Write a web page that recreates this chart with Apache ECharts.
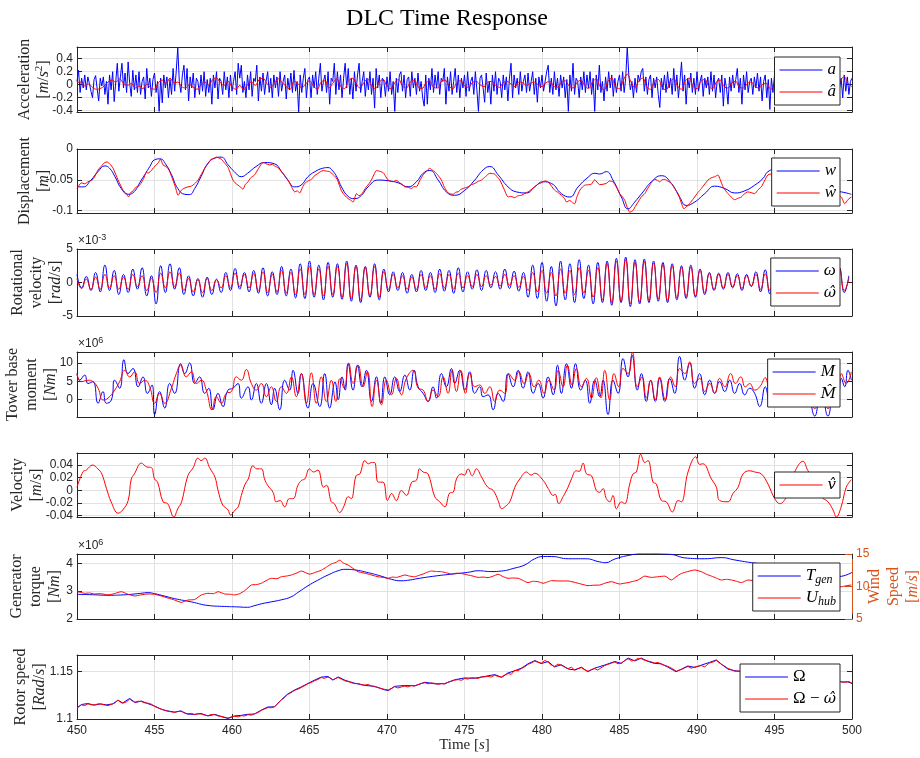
<!DOCTYPE html>
<html><head><meta charset="utf-8">
<script src="https://cdn.jsdelivr.net/npm/echarts@6/dist/echarts.min.js"></script>
<style>html,body{margin:0;padding:0;background:#fff}#c{width:920px;height:758px}</style>
</head><body><div id="c"></div>
<script>
// ---------------- DATA ----------------
const xTicks = [450,455,460,465,470,475,480,485,490,495,500];
const accTicks = [-0.4,-0.2,0,0.2,0.4];
const dispTicks = [-0.1,-0.05,0];
const rotTicks = [-5,0,5];
const momTicks = [0,5,10];
const velTicks = [-0.04,-0.02,0,0.02,0.04];
const torqTicks = [2,3,4];
const windTicks = [5,10,15];
const rotorTicks = [1.1,1.15];

// Acceleration a [m/s^2], samples every 0.1 s from 450 s
const accA = [
.05,.22,-.12,.1,-.05,.15,-.08,.12,.02,-.1,
-.2,.08,.14,-.06,-.25,.1,-.02,.12,-.15,.05,
-.3,.15,-.08,.2,-.26,.05,.33,-.1,.12,.33,
-.05,.18,-.12,.35,.02,-.18,.22,-.08,.15,-.12,
.2,-.15,.05,.12,-.22,.25,-.05,.1,-.18,.08,
.18,-.12,.05,-.41,.1,-.28,.15,-.05,.12,-.2,
.08,-.15,.25,-.1,.2,.57,.05,-.12,.15,.3,
-.08,.25,-.25,.12,-.05,.18,-.2,.1,.05,-.15,
.15,-.1,.2,-.18,.08,-.12,.1,-.3,.15,-.05,
.2,-.22,.1,.05,-.15,.2,-.08,.12,-.2,.15,
-.1,.05,.2,-.15,.33,.1,.3,-.12,.05,-.2,
.15,-.08,.2,-.18,.1,.05,.3,-.25,.12,-.1,
.18,-.15,.05,.2,-.12,.1,-.2,.15,-.05,.12,
-.18,.2,-.1,.05,.15,-.22,.1,-.08,.18,-.12,
.22,-.1,.05,-.42,.15,-.12,.1,.25,-.2,.08,
.12,-.2,.15,-.05,.2,-.15,.1,.33,-.1,.05,
.15,-.12,.2,-.3,.1,.05,.33,-.15,.2,-.08,
.15,-.2,.1,.33,-.05,.25,-.15,.1,-.22,.2,
-.1,.15,.33,-.12,.05,.2,-.18,.1,-.08,.2,
-.15,.1,-.36,.25,-.05,.15,-.2,.1,.05,-.18,
.12,-.1,.2,-.15,.05,-.41,.1,-.12,.15,.2,
-.1,.15,-.2,.08,.12,-.18,.2,-.05,.1,-.15,
.18,-.1,.05,-.2,-.33,.15,-.3,.1,-.08,.25,
-.12,.15,-.05,.2,-.15,.1,.05,.25,-.3,.12,
-.1,.2,-.15,.05,.25,-.12,.15,-.2,.1,-.05,
.15,-.18,.2,-.1,.05,.12,-.15,.2,-.08,-.41,
.1,.15,-.05,-.27,.18,-.12,.05,-.3,.15,-.1,
.2,-.15,.1,.05,-.2,.15,-.08,.12,-.25,.1,
.33,-.2,.15,-.05,.1,-.15,.2,-.1,.05,.15,
-.12,.18,-.1,.05,.2,-.15,.1,-.27,.12,-.05,
.15,-.1,.05,.2,.3,-.12,.1,-.15,.2,-.08,
.1,-.18,.15,-.05,.12,-.2,.08,-.41,.15,-.1,
.33,-.15,.1,.05,-.2,.12,-.08,.2,-.12,.15,
-.05,.2,-.15,.1,-.41,.15,-.08,.3,-.12,.05,
-.25,.12,-.1,.2,-.05,.15,-.18,.1,-.12,.05,
.15,-.1,.2,-.12,.1,.58,.15,-.08,.05,-.2,
.1,-.12,.15,.05,.2,.25,-.1,.12,-.15,.08,
.15,-.2,.1,-.05,.12,-.15,-.35,.1,-.08,.15,
-.12,.2,-.05,.1,-.15,.25,-.1,.15,-.2,.05,
.35,-.1,.15,-.3,.1,-.05,.18,-.12,.1,-.15,
.2,-.1,.05,.15,-.18,.1,-.05,.12,-.15,.2,
-.1,.15,-.2,.05,.1,-.12,.15,-.33,.1,-.05,
-.3,.12,-.1,.15,-.05,.08,.25,-.12,.1,-.3,
.15,-.08,.2,-.12,.05,.1,-.15,.12,-.05,.18,
-.1,.12,-.25,.05,.15,-.2,.08,-.38,.1,-.12,
.15,-.2,.1,-.05,.2,-.15,.12,-.1,.05,-.3,
.18,-.12,.1,.05,-.2,.15,-.08,.2,-.25,.1,
-.1,.15,-.05,.12,-.18,.1,-.3,.15,-.05,.2,
-.15,.1,.05,-.2,.15,-.1,.12,-.25,.08,.15,
-.12,.2,-.05,.1,-.2,.15,-.1,.12,-.15,.05,
.1];
// Estimated acceleration a-hat, every 0.25 s from 450 s
const accAhat = [
.03,.04,-.02,.01,-.04,-.07,-.06,-.02,.04,.07,.04,.09,.02,-.01,.02,-.05,-.02,-.06,.01,-.05,
-.07,.03,.07,.02,.1,.03,.04,-.03,-.05,0,-.04,-.07,0,.04,-.01,.08,.1,.03,-.01,.05,
-.03,-.07,-.01,-.08,0,.04,-.01,.08,.1,.02,-.04,.03,.09,.03,-.03,-.07,.05,.02,-.05,.01,
.06,-.02,-.07,.04,.06,-.05,.02,.09,-.02,-.06,.05,.1,.02,-.05,.03,.09,-.01,-.06,.04,.08,
-.02,-.06,.03,.08,-.02,-.05,.04,.07,-.03,-.06,.02,.06,-.04,-.05,.05,.07,-.02,-.06,.03,.06,
-.02,-.04,.03,.05,0,-.03,.04,.05,-.01,-.04,.03,.05,.01,-.03,.04,.03,-.01,.02,.04,0,
-.03,.03,.05,-.02,-.04,.04,.06,-.02,-.05,.03,.07,-.01,-.06,.04,.09,-.03,-.08,.05,.1,-.04,
-.06,.07,.16,.04,-.05,.06,.1,-.03,-.07,.05,.08,-.04,-.08,.04,.09,-.02,-.07,.06,.1,-.03,
-.06,.05,.08,-.02,-.06,.04,.07,-.03,-.05,.03,.05,-.04,-.05,.02,.04,-.03,-.05,.01,.02,-.07,
-.02,.03,.05,-.02,-.05,.03,.06,-.03,-.06,.04,.07,-.02,-.06,.05,.08,-.04,-.05,.07,.12,.02,
-.03];

// Displacement w and w-hat [m] as [time, value]
const dispW = [[450,-.0615],[450.4,-.0615],[450.9,-.0505],[451.35,-.0368],[451.8,-.0275],[452.1,-.0313],[452.45,-.045],[452.85,-.064],[453.3,-.0736],[453.6,-.0714],[454.15,-.0505],[454.7,-.0285],[455.0,-.0176],[455.35,-.016],[455.75,-.0258],[456.1,-.042],[456.5,-.064],[456.95,-.0736],[457.25,-.0741],[457.6,-.064],[458.0,-.045],[458.45,-.023],[458.9,-.0148],[459.3,-.0132],[459.75,-.0258],[460.15,-.0368],[460.6,-.045],[461.0,-.0395],[461.55,-.0285],[462.1,-.022],[462.75,-.0242],[463.2,-.0368],[463.6,-.0505],[464.05,-.0615],[464.45,-.0588],[464.9,-.045],[465.35,-.0368],[465.85,-.0313],[466.2,-.0302],[466.5,-.0357],[466.8,-.047],[467.06,-.0615],[467.49,-.0769],[467.92,-.0807],[468.35,-.0753],[468.78,-.0615],[469.43,-.0505],[470.07,-.0516],[470.72,-.0549],[471.36,-.0615],[471.9,-.0533],[472.33,-.0395],[472.76,-.035],[473.3,-.0505],[473.83,-.0697],[474.37,-.0752],[475.02,-.067],[475.66,-.0505],[476.2,-.034],[476.63,-.0285],[477.17,-.042],[477.81,-.0615],[478.35,-.0697],[479.0,-.0714],[479.53,-.0615],[480.07,-.0533],[480.61,-.056],[481.25,-.0725],[481.79,-.078],[482.33,-.0615],[482.97,-.046],[483.4,-.0395],[483.72,-.0406],[484.15,-.0368],[484.58,-.0505],[485.12,-.078],[485.55,-.0972],[485.98,-.0862],[486.52,-.0697],[487.06,-.0533],[487.7,-.0434],[488.35,-.056],[488.88,-.078],[489.31,-.0917],[489.85,-.0862],[490.5,-.0725],[491.14,-.0604],[491.79,-.0642],[492.43,-.0714],[493.08,-.068],[493.72,-.0588],[494.26,-.0478],[494.58,-.0368],[495.2,-.032],[495.7,-.035],[496.5,-.045],[497.5,-.06],[498.5,-.067],[499.31,-.0697],[499.96,-.0736]];
const dispWhat = [[450,-.0642],[450.28,-.055],[450.5,-.0565],[450.71,-.0533],[451.03,-.0494],[451.2,-.042],[451.36,-.034],[451.6,-.027],[451.79,-.022],[451.95,-.021],[452.11,-.0241],[452.33,-.0313],[452.65,-.0505],[452.97,-.067],[453.18,-.0725],[453.33,-.078],[453.45,-.071],[453.55,-.0697],[453.83,-.0615],[454.0,-.06],[454.15,-.055],[454.3,-.048],[454.47,-.0384],[454.6,-.039],[454.8,-.035],[454.95,-.03],[455.12,-.0258],[455.25,-.022],[455.38,-.0165],[455.55,-.0258],[455.7,-.028],[455.87,-.0313],[456.0,-.038],[456.19,-.0505],[456.35,-.062],[456.52,-.0752],[456.73,-.067],[456.9,-.064],[457.16,-.0615],[457.3,-.061],[457.48,-.0588],[457.65,-.055],[457.81,-.0505],[458.0,-.042],[458.24,-.0313],[458.45,-.024],[458.67,-.0165],[458.85,-.015],[458.99,-.0132],[459.15,-.0145],[459.31,-.0165],[459.5,-.022],[459.74,-.0296],[459.9,-.04],[460.06,-.0505],[460.2,-.055],[460.39,-.0588],[460.55,-.062],[460.71,-.0653],[460.85,-.058],[461.03,-.0533],[461.2,-.047],[461.46,-.042],[461.7,-.032],[462.0,-.022],[462.2,-.024],[462.43,-.0258],[462.6,-.025],[462.75,-.0275],[463.0,-.031],[463.18,-.0368],[463.4,-.043],[463.61,-.0505],[463.85,-.062],[464.04,-.0697],[464.2,-.068],[464.37,-.0714],[464.55,-.062],[464.69,-.056],[464.9,-.052],[465.12,-.0494],[465.3,-.044],[465.55,-.0395],[465.7,-.037],[465.87,-.035],[466.1,-.036],[466.3,-.0368],[466.62,-.0439],[466.8,-.05],[467.06,-.068],[467.3,-.076],[467.49,-.0807],[467.65,-.083],[467.81,-.0862],[468.03,-.0725],[468.2,-.076],[468.35,-.0736],[468.5,-.068],[468.67,-.0615],[468.85,-.056],[468.99,-.0505],[469.15,-.042],[469.32,-.035],[469.5,-.036],[469.75,-.0384],[469.9,-.044],[470.07,-.0505],[470.2,-.052],[470.39,-.0533],[470.6,-.051],[470.82,-.0549],[471.0,-.058],[471.15,-.0615],[471.35,-.062],[471.58,-.0642],[471.75,-.061],[471.9,-.0615],[472.1,-.052],[472.33,-.042],[472.55,-.036],[472.76,-.0313],[472.9,-.034],[473.08,-.0368],[473.3,-.043],[473.51,-.0505],[473.7,-.062],[473.94,-.0714],[474.1,-.073],[474.26,-.0736],[474.45,-.07],[474.59,-.0697],[474.75,-.066],[474.91,-.0642],[475.05,-.063],[475.23,-.0615],[475.45,-.058],[475.66,-.056],[475.85,-.053],[476.09,-.0505],[476.35,-.045],[476.63,-.0395],[476.8,-.04],[476.95,-.0406],[477.1,-.045],[477.28,-.0505],[477.55,-.065],[477.81,-.078],[478.0,-.077],[478.24,-.0791],[478.45,-.076],[478.67,-.0752],[478.9,-.072],[479.1,-.0697],[479.3,-.066],[479.53,-.0615],[479.75,-.057],[479.96,-.0549],[480.2,-.052],[480.39,-.0533],[480.6,-.06],[480.82,-.067],[481.05,-.071],[481.25,-.0752],[481.45,-.08],[481.58,-.0862],[481.79,-.0835],[481.95,-.087],[482.11,-.089],[482.25,-.078],[482.44,-.067],[482.6,-.062],[482.76,-.0588],[483.0,-.058],[483.19,-.0571],[483.4,-.05],[483.72,-.058],[484.15,-.056],[484.35,-.052],[484.58,-.0533],[484.8,-.062],[485.01,-.0725],[485.2,-.078],[485.34,-.0835],[485.5,-.095],[485.66,-.1027],[485.87,-.0999],[486.05,-.092],[486.2,-.0862],[486.4,-.078],[486.63,-.0725],[486.8,-.065],[486.95,-.0588],[487.1,-.053],[487.27,-.0494],[487.45,-.051],[487.59,-.0533],[487.75,-.05],[487.92,-.0494],[488.1,-.052],[488.35,-.056],[488.55,-.064],[488.78,-.0725],[488.95,-.085],[489.16,-.0972],[489.3,-.094],[489.42,-.0917],[489.6,-.086],[489.85,-.078],[490.05,-.071],[490.28,-.0642],[490.5,-.057],[490.71,-.0505],[490.9,-.047],[491.14,-.045],[491.36,-.0423],[491.5,-.05],[491.68,-.0615],[491.85,-.068],[492.0,-.0725],[492.2,-.078],[492.43,-.0824],[492.65,-.08],[492.86,-.078],[493.05,-.073],[493.29,-.0697],[493.5,-.071],[493.72,-.0725],[493.95,-.066],[494.15,-.0615],[494.35,-.052],[494.58,-.042],[495.0,-.04],[495.5,-.045],[496.0,-.05],[496.5,-.055],[497.0,-.058],[497.5,-.062],[498.0,-.066],[498.5,-.07],[499.0,-.075],[499.31,-.078],[499.53,-.089],[499.75,-.082],[499.96,-.078]];

// Rotational velocity omega, omega-hat [x1e-3 rad/s], every 0.3 s from 450 s
const rotW = [1.2,-0.8,0.9,-1.2,
1.5,-1.4,2.6,-1.2,1.8,-1.8,
1.2,-1.5,2.0,-1.0,2.2,-2.0,1.0,
-3.2,2.5,-1.5,2.8,-1.0,2.2,
-1.8,1.0,-2.0,0.6,-2.2,0.8,-1.8,0.5,
-1.5,1.5,-1.2,2.1,-1.0,1.5,-1.4,
1.8,-1.6,2.2,-2.0,1.6,-1.8,2.4,-2.0,2.0,
-2.3,2.8,-2.4,3.2,-2.2,2.6,-2.6,3.0,-2.2,
2.8,-2.5,3.2,-2.8,2.6,-3.0,2.4,-2.2,2.8,-2.6,2.0,
-1.4,1.6,-1.2,1.5,-1.6,1.2,-1.4,1.8,-1.2,1.5,
-1.5,2.0,-1.3,1.8,-1.6,2.2,-1.4,1.6,-1.0,1.9,
-1.2,1.8,-0.8,1.6,-1.0,2.0,-0.9,1.7,-1.3,1.5,
-2.2,2.6,-2.4,3.0,-2.8,2.4,-3.5,3.2,-2.6,2.8,-3.0,3.4,-2.4,2.6,-3.2,3.0,
-3.0,3.2,-3.4,3.6,-3.0,3.8,-3.6,3.4,-3.2,3.5,-3.0,3.2,-2.8,3.0,-3.0,2.8,
-2.6,2.5,-2.4,2.6,-2.2,2.0,-1.8,1.5,
-1.2,1.4,-1.0,1.5,-0.8,1.3,-1.2,1.2,-0.6,1.6,-1.4,1.9,-1.7,
1.5,-1.2,1.4,-1.5,1.2,-1.0,1.5,-1.3,1.6,-1.4,1.5,-1.2,1.8,-1.6,2.2,-1.5,1.0];
const rotWhat = [0.6,-0.9,0.5,-1.0,
0.8,-1.0,1.2,-0.8,1.0,-1.0,
0.8,-1.0,1.2,-0.6,1.0,-1.2,0.6,
-1.5,1.4,-0.8,1.6,-0.6,1.4,
-1.2,0.6,-1.4,0.4,-1.5,0.6,-1.2,0.4,
-0.8,1.0,-0.8,1.4,-0.6,1.2,-0.8,
1.3,-1.2,1.6,-1.5,1.2,-1.4,1.8,-1.6,1.5,
-1.8,2.0,-1.8,2.4,-1.8,2.0,-2.0,2.4,-1.8,
2.4,-2.2,2.8,-2.4,2.4,-2.6,2.2,-2.0,2.4,-2.2,1.6,
-1.0,1.2,-0.8,1.0,-1.0,0.8,-1.0,1.2,-0.8,1.0,
-1.0,1.3,-0.8,1.2,-1.0,1.4,-0.8,1.0,-0.6,1.2,
-0.6,1.0,-0.4,0.9,-0.5,1.2,-0.4,1.0,-0.7,0.9,
-1.2,1.5,-1.4,1.8,-1.6,1.5,-2.0,2.0,-1.6,1.8,-1.8,2.2,-1.6,1.8,-2.2,2.2,
-2.6,2.8,-3.0,3.2,-2.8,3.4,-3.2,3.0,-2.9,3.1,-2.7,2.9,-2.5,2.7,-2.7,2.5,
-2.3,2.2,-2.1,2.3,-2.0,1.8,-1.6,1.3,
-1.0,1.2,-0.8,1.2,-0.6,1.0,-0.9,1.0,-0.5,1.2,-1.0,1.3,-1.2,
1.2,-1.0,1.1,-1.2,1.0,-0.8,1.2,-1.0,1.3,-1.1,1.2,-1.0,1.5,-1.3,2.0,-1.2,0.6];

// Tower base moment M, M-hat [x1e6 Nm] as [time, value]
const momM = [[450,7.1],[450.17,5.3],[450.5,6.7],[450.71,4.4],[451.03,4.9],[451.36,-1.0],[451.68,2.2],[451.89,-1.0],[452.22,-0.1],[452.43,5.3],[452.75,3.1],[453.03,10.9],[453.29,7.1],[453.61,8.5],[453.94,3.5],[454.26,6.2],[454.54,1.7],[454.84,4.0],[455.01,-4.1],[455.33,2.2],[455.66,-2.3],[455.98,4.4],[456.3,1.7],[456.69,9.8],[456.95,7.1],[457.27,10.0],[457.59,4.4],[457.91,6.2],[458.24,1.7],[458.5,3.1],[458.77,-2.8],[459.1,1.7],[459.42,-1.9],[459.74,2.6],[460.06,3.1],[460.39,4.4],[460.6,0.4],[461.03,3.5],[461.25,-0.1],[461.57,4.4],[461.89,-1.0],[462.22,4.4],[462.54,-1.4],[462.75,3.1],[463.08,-2.8],[463.4,5.3],[463.72,2.6],[463.94,8.0],[464.26,1.7],[464.47,7.1],[464.9,-2.3],[465.23,4.4],[465.66,-1.9],[465.98,7.1],[466.3,-2.3],[466.65,4.8],[466.85,0.0],[467.1,6.2],[467.3,2.6],[467.49,9.8],[467.81,2.6],[468.09,9.4],[468.39,3.5],[468.67,8.0],[469.0,-0.5],[469.32,6.2],[469.6,-1.0],[469.86,6.2],[470.18,1.3],[470.5,6.2],[470.82,2.2],[471.15,6.7],[471.47,2.6],[471.75,8.0],[472.01,3.5],[472.33,1.7],[472.65,-0.5],[472.97,3.5],[473.19,0.4],[473.51,7.1],[473.83,3.5],[474.16,8.5],[474.37,4.4],[474.69,8.0],[475.02,2.6],[475.34,7.6],[475.66,1.7],[475.98,3.5],[476.2,0.8],[476.52,1.3],[476.85,-2.8],[477.17,1.7],[477.49,-0.5],[477.81,7.1],[478.14,3.5],[478.46,8.0],[478.78,3.1],[479.1,7.6],[479.43,1.7],[479.75,4.4],[480.07,0.4],[480.39,6.2],[480.72,1.3],[481.0,9.4],[481.25,1.7],[481.58,9.8],[481.9,3.1],[482.16,9.8],[482.5,2.6],[482.8,5.3],[483.08,-1.0],[483.4,5.3],[483.72,0.8],[483.94,5.3],[484.26,-4.1],[484.58,5.3],[484.91,1.7],[485.23,11.2],[485.55,6.2],[485.81,12.1],[486.15,2.6],[486.41,7.1],[486.73,-0.5],[487.01,5.3],[487.31,-0.5],[487.59,5.8],[487.92,-0.5],[488.24,5.8],[488.56,1.7],[488.88,11.8],[489.21,5.3],[489.53,10.0],[489.85,3.1],[490.17,7.1],[490.5,1.3],[490.82,5.3],[491.14,1.7],[491.46,4.9],[491.79,2.2],[492.11,5.3],[492.43,1.7],[492.75,4.4],[493.08,1.3],[493.4,3.1],[493.72,1.7],[494.05,-1.9],[494.4,3.5],[494.7,-1.5],[495.0,4.5],[495.35,-2.0],[495.7,5.0],[496.0,-1.0],[496.35,5.5],[496.7,-1.0],[497.05,5.0],[497.6,-4.5],[498.0,3.5],[498.45,-4.5],[498.85,3.0],[499.1,0.5],[499.31,5.8],[499.53,3.5],[499.74,8.0],[499.96,5.3]];
const momMhat = [[450,7.1],[450.28,4.9],[450.71,5.3],[451.03,4.9],[451.36,3.1],[451.68,-0.1],[452.0,0.4],[452.43,2.6],[452.75,4.9],[453.08,8.0],[453.4,6.2],[453.72,7.6],[454.04,4.4],[454.37,5.3],[454.69,3.5],[455.01,-1.0],[455.33,1.7],[455.66,-1.0],[456.09,3.1],[456.41,7.1],[456.69,9.4],[457.05,6.2],[457.38,7.6],[457.7,4.4],[458.02,5.3],[458.34,2.6],[458.71,-2.8],[458.99,0.8],[459.31,-1.0],[459.63,1.7],[459.96,2.2],[460.28,6.2],[460.6,5.3],[460.92,8.2],[461.25,4.4],[461.57,2.6],[461.89,4.4],[462.22,0.8],[462.54,3.5],[462.86,-0.5],[463.18,3.5],[463.51,1.7],[463.83,6.2],[464.15,0.8],[464.47,7.1],[464.8,-1.0],[465.12,7.3],[465.44,-1.0],[465.76,6.2],[466.09,-0.5],[466.41,5.3],[466.7,-0.5],[466.97,5.8],[467.23,3.1],[467.53,10.0],[467.81,4.4],[468.14,9.4],[468.46,3.5],[468.74,7.6],[469.04,-1.9],[469.32,5.3],[469.64,-1.4],[469.96,5.3],[470.29,1.3],[470.61,5.8],[470.93,1.3],[471.25,5.8],[471.68,8.0],[472.01,3.1],[472.33,2.6],[472.65,-0.5],[472.97,2.6],[473.3,0.8],[473.62,6.2],[473.94,1.7],[474.2,8.0],[474.48,2.2],[474.76,8.0],[475.06,1.7],[475.34,7.1],[475.66,3.5],[475.98,4.0],[476.31,1.7],[476.63,3.5],[476.95,-0.5],[477.28,2.6],[477.6,1.7],[477.86,7.1],[478.24,5.3],[478.5,7.6],[478.85,4.4],[479.15,7.1],[479.49,3.5],[479.79,5.3],[480.13,1.7],[480.44,5.3],[480.78,2.6],[481.04,8.0],[481.36,3.5],[481.64,9.4],[481.94,4.0],[482.22,8.5],[482.54,3.5],[482.87,5.8],[483.19,0.4],[483.5,6.0],[483.8,0.5],[484.05,8.0],[484.37,-0.1],[484.65,7.1],[484.95,3.5],[485.23,8.5],[485.55,7.1],[485.83,12.9],[486.15,3.5],[486.45,6.2],[486.73,0.4],[487.01,5.3],[487.31,-0.1],[487.59,6.2],[487.96,-0.1],[488.3,6.2],[488.6,3.5],[488.88,8.5],[489.21,7.1],[489.53,10.3],[489.85,4.4],[490.17,5.8],[490.5,2.2],[490.82,4.4],[491.14,1.7],[491.46,5.8],[491.79,3.5],[492.17,7.1],[492.48,4.4],[492.82,6.2],[493.12,3.5],[493.4,4.4],[493.72,2.6],[494.05,3.5],[494.4,6.0],[494.7,0.5],[495.0,6.5],[495.35,0],[495.7,6.0],[496.0,0.5],[496.35,6.5],[496.7,0],[497.05,5.5],[497.6,-2.5],[498.0,5.0],[498.45,-2.5],[498.85,5.0],[499.1,2.0],[499.31,7.1],[499.63,4.4],[499.96,7.6]];

// Estimated velocity v-hat [m/s] as [time, value]
const velVhat = [[450,.005],[450.4,.030],[450.6,.032],[451.0,.040],[451.35,.034],[451.6,.026],[451.9,.003],[452.2,-.018],[452.65,-.036],[452.95,-.031],[453.3,-.016],[453.5,.018],[453.7,.026],[454.15,.043],[454.5,.037],[454.8,.036],[455.0,.018],[455.2,.013],[455.55,-.018],[455.85,-.021],[456.25,-.042],[456.5,-.029],[456.75,-.018],[457.15,.023],[457.5,.036],[457.8,.051],[458.0,.047],[458.25,.051],[458.55,.036],[458.9,.021],[459.1,0],[459.4,-.023],[459.75,-.031],[459.9,-.039],[460.2,-.031],[460.4,-.026],[460.6,-.008],[460.85,.010],[461.05,.018],[461.35,.039],[461.6,.034],[461.9,.034],[462.1,.018],[462.3,.008],[462.65,-.003],[462.85,-.018],[463.1,-.016],[463.4,-.026],[463.7,-.013],[463.95,-.013],[464.25,.008],[464.5,.016],[464.7,.018],[465.0,.034],[465.25,.029],[465.55,.032],[465.9,.005],[466.1,.008],[466.4,-.018],[466.6,-.021],[466.95,-.035],[467.2,-.026],[467.5,-.010],[467.7,-.013],[468.0,.023],[468.25,.026],[468.57,.047],[468.8,.042],[469.0,.044],[469.2,.044],[469.43,.013],[469.75,.013],[470.03,-.016],[470.3,-.005],[470.6,-.016],[470.93,0],[471.25,-.008],[471.6,.013],[471.9,.016],[472.1,.034],[472.33,.029],[472.65,.026],[473.08,-.010],[473.4,-.018],[473.73,-.026],[474.05,-.004],[474.27,-.003],[474.48,.018],[474.8,.026],[475.0,.024],[475.23,.034],[475.5,.023],[475.77,.034],[476.1,.021],[476.5,.005],[476.85,0],[477.17,-.016],[477.4,-.029],[477.6,-.026],[477.92,-.018],[478.25,.005],[478.57,.018],[479.0,.029],[479.3,.024],[479.53,.027],[480.07,.016],[480.4,.003],[480.72,-.008],[480.85,-.006],[481.08,-.021],[481.36,-.010],[481.68,.005],[481.9,.018],[482.2,.031],[482.4,.030],[482.65,.043],[482.87,.026],[483.2,.023],[483.5,0],[483.72,-.003],[483.94,.003],[484.15,-.013],[484.37,-.018],[484.58,-.008],[484.8,-.029],[485.12,-.018],[485.34,-.021],[485.66,.010],[485.87,.026],[486.09,.029],[486.37,.057],[486.63,.044],[486.84,.047],[487.16,.013],[487.38,.010],[487.7,-.016],[488.02,-.018],[488.41,-.034],[488.78,-.016],[488.99,-.018],[489.42,.029],[489.92,.053],[490.17,.041],[490.39,.042],[490.93,.018],[491.25,.005],[491.46,-.016],[492.0,-.018],[492.32,-.005],[492.65,.005],[492.97,.026],[493.4,.031],[493.72,.029],[494.15,.026],[494.58,.010],[495.01,-.013],[495.34,-.021],[495.77,-.010],[496.3,.029],[496.84,.046],[497.16,.031],[497.6,.016],[498.02,-.010],[498.45,-.018],[498.78,-.031],[498.99,-.042],[499.3,-.026],[499.63,.005],[499.96,.017]];

// Generator torque T_gen [x1e6 Nm] and hub wind speed U_hub [m/s]
const torqGen = [[450,2.885],[451,2.87],[452,2.85],[452.8,2.86],[453.5,2.885],[454.1,2.92],[454.6,2.945],[455,2.91],[455.6,2.83],[456.3,2.73],[457.4,2.61],[458.45,2.485],[459.5,2.45],[460.3,2.435],[461.0,2.42],[461.4,2.47],[461.9,2.545],[462.5,2.61],[463.2,2.69],[463.8,2.79],[464.3,2.97],[464.9,3.19],[465.5,3.38],[466.2,3.58],[466.9,3.74],[467.3,3.78],[467.9,3.76],[468.8,3.66],[469.6,3.54],[470.3,3.42],[470.9,3.37],[471.5,3.40],[472.0,3.45],[473.1,3.54],[474.2,3.61],[475.2,3.67],[475.9,3.73],[476.7,3.70],[477.4,3.72],[478.2,3.82],[478.9,3.94],[479.5,4.15],[480.1,4.24],[480.6,4.24],[481.7,4.16],[482.8,4.16],[483.7,4.05],[484.1,4.02],[484.7,4.15],[485.5,4.27],[486.6,4.35],[488.1,4.33],[489.4,4.18],[490.5,4.16],[491.6,4.2],[492.4,4.12],[493.5,4.02],[494.5,3.95],[495.5,3.85],[496.5,3.7],[497.5,3.57],[498.5,3.5],[499.3,3.53],[500,3.67]];
const windU = [[450,9.2],[450.25,9.1],[450.5,8.95],[450.8,9.0],[451.14,8.85],[451.5,8.9],[452.0,8.7],[452.4,8.9],[452.86,9.2],[453.3,8.8],[453.72,8.54],[454.1,8.7],[454.58,8.85],[455.0,8.8],[455.44,8.54],[455.9,8.2],[456.3,7.92],[456.73,7.56],[457.16,7.92],[457.59,8.0],[458.02,8.7],[458.45,8.95],[458.8,8.9],[459.1,9.2],[459.53,8.85],[459.9,8.8],[460.17,8.7],[460.5,8.9],[460.82,9.36],[461.25,10.23],[461.6,10.3],[461.89,10.5],[462.2,10.9],[462.54,11.26],[462.9,11.2],[463.18,11.5],[463.5,11.6],[463.83,11.77],[464.2,12.1],[464.47,12.38],[465.01,11.9],[465.4,12.2],[465.76,12.5],[466.1,13.0],[466.41,13.46],[466.7,13.7],[466.95,14.05],[467.2,13.6],[467.49,13.3],[467.8,12.8],[468.13,12.28],[468.45,12.1],[468.78,11.92],[469.1,11.7],[469.43,11.5],[469.75,11.4],[470.07,11.26],[470.35,11.45],[470.61,11.4],[470.9,11.6],[471.15,11.77],[471.45,11.6],[471.79,11.5],[472.05,11.7],[472.33,11.92],[472.6,12.2],[472.87,12.38],[473.2,12.3],[473.51,12.28],[473.85,12.1],[474.16,11.92],[474.5,12.05],[474.8,12.0],[475.23,11.77],[475.55,11.6],[475.88,11.4],[476.2,11.45],[476.52,11.36],[476.85,11.6],[477.17,11.87],[477.5,11.5],[477.81,11.26],[478.1,11.3],[478.46,11.26],[478.8,10.9],[479.1,10.6],[479.45,10.8],[479.75,10.74],[480.07,10.5],[480.35,10.7],[480.61,10.9],[481.1,10.85],[481.68,10.85],[482.0,10.7],[482.33,10.5],[482.65,10.3],[482.97,10.13],[483.35,10.2],[483.73,10.23],[484.05,10.5],[484.48,10.74],[485.01,10.38],[485.3,10.5],[485.55,10.6],[485.9,10.8],[486.2,11.0],[486.63,11.6],[487.06,11.4],[487.49,11.5],[487.92,11.6],[488.35,11.0],[488.65,11.5],[488.99,12.0],[489.4,12.3],[489.85,12.54],[490.28,12.28],[490.6,11.9],[490.93,11.6],[491.25,11.3],[491.57,11.0],[491.9,11.1],[492.22,11.0],[492.55,10.8],[492.86,10.6],[493.29,11.0],[494,10.8],[495,11.0],[496,10.8],[497,10.5],[498,10.3],[498.8,10.0],[499.31,9.97],[499.6,10.1],[499.96,10.23]];

// Rotor speed Omega and Omega - omega-hat [Rad/s]
const rotorOmega = [[450,1.1118],[450.3,1.1152],[450.7,1.1162],[451.1,1.1145],[451.5,1.1158],[451.9,1.1148],[452.3,1.1158],[452.65,1.1196],[452.95,1.1168],[453.4,1.1215],[453.75,1.1172],[454.15,1.1188],[454.55,1.1162],[455.0,1.1136],[455.45,1.1101],[455.85,1.1085],[456.3,1.1072],[456.7,1.1085],[457.1,1.1052],[457.55,1.1048],[458.0,1.1058],[458.45,1.1032],[458.9,1.1049],[459.3,1.1025],[459.75,1.1005],[460.15,1.1032],[460.6,1.1038],[461.0,1.1049],[461.45,1.1052],[461.9,1.1094],[462.3,1.1125],[462.75,1.1128],[463.2,1.1205],[463.6,1.1262],[464.05,1.1305],[464.45,1.1334],[464.9,1.1372],[465.3,1.1405],[465.75,1.1438],[466.2,1.1445],[466.5,1.1408],[466.85,1.144],[467.3,1.1405],[467.9,1.1375],[468.55,1.1352],[469.2,1.1342],[469.85,1.1305],[470.1,1.1298],[470.5,1.1342],[471.1,1.135],[471.8,1.1348],[472.45,1.1385],[473.1,1.1368],[473.7,1.137],[474.35,1.141],[475.0,1.143],[475.65,1.1426],[476.3,1.1445],[476.95,1.1465],[477.4,1.1436],[477.8,1.1482],[478.25,1.1505],[478.7,1.1535],[479.1,1.1578],[479.55,1.1612],[479.95,1.158],[480.4,1.1602],[480.8,1.1545],[481.25,1.1568],[481.7,1.1522],[482.1,1.1515],[482.55,1.1542],[482.95,1.1495],[483.4,1.1532],[484.05,1.1565],[484.7,1.1602],[485.1,1.1582],[485.55,1.1638],[486.0,1.1608],[486.4,1.1638],[486.85,1.1602],[487.25,1.1582],[487.7,1.1578],[488.1,1.1545],[488.65,1.1495],[489.0,1.1522],[489.4,1.1555],[489.85,1.154],[490.3,1.1565],[490.8,1.1592],[491.25,1.1618],[491.6,1.157],[492.0,1.1522],[492.45,1.1505],[493.0,1.1495],[494.0,1.1475],[495.0,1.1465],[496.0,1.1445],[497.0,1.1435],[498.0,1.1415],[499.0,1.1402],[499.4,1.1385],[499.7,1.139],[500,1.1372]];
const rotorOmegaMinus = [[450,1.1114],[450.28,1.1148],[450.5,1.1141],[450.71,1.1159],[450.9,1.115],[451.14,1.1148],[451.35,1.1158],[451.57,1.1155],[451.8,1.1146],[452.0,1.1141],[452.2,1.1152],[452.43,1.1166],[452.65,1.120],[452.8,1.1175],[452.97,1.1166],[453.2,1.118],[453.4,1.121],[453.55,1.119],[453.72,1.1176],[453.95,1.1186],[454.15,1.1183],[454.35,1.117],[454.58,1.1166],[454.8,1.1155],[455.01,1.1131],[455.2,1.1118],[455.44,1.1104],[455.65,1.109],[455.87,1.108],[456.1,1.1075],[456.3,1.1069],[456.5,1.1078],[456.73,1.108],[456.95,1.1062],[457.16,1.1055],[457.4,1.1058],[457.59,1.1045],[457.8,1.1055],[458.02,1.1052],[458.25,1.104],[458.45,1.1035],[458.65,1.1047],[458.88,1.1045],[459.1,1.1032],[459.31,1.1028],[459.5,1.102],[459.74,1.101],[459.95,1.1022],[460.17,1.1028],[460.4,1.1022],[460.6,1.1035],[460.8,1.1032],[461.03,1.1045],[461.25,1.104],[461.46,1.1055],[461.7,1.107],[461.89,1.109],[462.1,1.1105],[462.32,1.112],[462.55,1.1118],[462.75,1.113],[462.95,1.116],[463.18,1.12],[463.4,1.1225],[463.61,1.126],[463.8,1.1275],[464.04,1.130],[464.25,1.1312],[464.47,1.133],[464.7,1.135],[464.9,1.137],[465.1,1.1382],[465.33,1.140],[465.55,1.1415],[465.76,1.1435],[465.95,1.1425],[466.19,1.144],[466.35,1.1428],[466.52,1.141],[466.7,1.1425],[466.84,1.1435],[467.05,1.1418],[467.28,1.140],[467.5,1.1392],[467.7,1.138],[467.92,1.137],[468.15,1.1372],[468.35,1.136],[468.57,1.1355],[468.8,1.1362],[469.0,1.1345],[469.21,1.1338],[469.45,1.1328],[469.65,1.1318],[469.86,1.131],[470.07,1.1304],[470.28,1.132],[470.5,1.1338],[470.7,1.1325],[470.92,1.1335],[471.15,1.1345],[471.35,1.1335],[471.55,1.135],[471.79,1.1345],[472.0,1.136],[472.2,1.1372],[472.44,1.138],[472.65,1.1368],[472.85,1.1378],[473.08,1.1373],[473.3,1.1362],[473.5,1.1372],[473.73,1.1366],[473.95,1.1385],[474.15,1.1395],[474.37,1.1407],[474.6,1.1412],[474.8,1.1405],[475.02,1.1424],[475.22,1.1418],[475.45,1.1432],[475.66,1.143],[475.88,1.1425],[476.1,1.1442],[476.31,1.144],[476.5,1.1448],[476.72,1.1438],[476.95,1.1459],[477.15,1.1445],[477.38,1.144],[477.6,1.146],[477.81,1.1476],[478.02,1.1468],[478.24,1.151],[478.45,1.1505],[478.67,1.1528],[478.9,1.1548],[479.1,1.1573],[479.3,1.1585],[479.53,1.1607],[479.75,1.1592],[479.96,1.1586],[480.18,1.1612],[480.39,1.1597],[480.6,1.1565],[480.82,1.155],[481.03,1.1575],[481.25,1.1562],[481.45,1.1545],[481.68,1.1528],[481.9,1.1542],[482.11,1.151],[482.3,1.1525],[482.54,1.1538],[482.75,1.1515],[482.97,1.15],[483.2,1.1518],[483.4,1.1528],[483.6,1.1512],[483.8,1.1535],[484.05,1.156],[484.25,1.1572],[484.48,1.1585],[484.69,1.1597],[484.9,1.1578],[485.12,1.1586],[485.35,1.1612],[485.55,1.1631],[485.78,1.1608],[485.98,1.1614],[486.2,1.1635],[486.41,1.1631],[486.62,1.1615],[486.84,1.1607],[487.05,1.1598],[487.27,1.1586],[487.5,1.1592],[487.7,1.1573],[487.9,1.1562],[488.13,1.155],[488.4,1.1528],[488.67,1.150],[488.85,1.1512],[488.99,1.1518],[489.2,1.1535],[489.42,1.155],[489.62,1.1532],[489.85,1.1545],[490.05,1.1552],[490.28,1.156],[490.5,1.1545],[490.65,1.157],[490.82,1.1586],[491.05,1.1598],[491.25,1.1614],[491.4,1.1592],[491.57,1.1573],[491.8,1.1552],[492.0,1.1528],[492.2,1.1518],[492.43,1.150],[492.7,1.1502],[493.0,1.149],[493.5,1.148],[494.0,1.147],[494.5,1.1468],[495.0,1.146],[495.5,1.145],[496.0,1.144],[496.5,1.1438],[497.0,1.143],[497.5,1.142],[498.0,1.141],[498.5,1.1405],[499.0,1.1398],[499.3,1.139],[499.6,1.1385],[499.8,1.1392],[500,1.1375]];

// ---------------- STYLE / LAYOUT ----------------
const SERIF = "'Liberation Serif','Times New Roman',serif";
const DSERIF = "'DejaVu Serif',serif";
const SANS = "'Liberation Sans',Arial,Helvetica,sans-serif";
const AX = '#262626', GRIDC = '#e2e2e2', ORANGE = '#D95319', BLUE = '#0000ff', RED = '#ff0000';
const gridPos = [[47,65],[149,64],[249,67],[352,65],[453,64],[554,65],[655,64]];
const richName = {
  i:{fontStyle:'italic',fontFamily:SERIF,fontSize:16,lineHeight:19,color:AX},
  sup:{fontFamily:SERIF,fontSize:11,lineHeight:19,verticalAlign:'top',color:AX}
};
const panels = [
  {ymin:-0.42, ymax:0.58, ticks:accTicks, label:'Acceleration\n[{i|m}/{i|s}{sup|2}]', gap:24, exp:null, lt:57},
  {ymin:-0.104, ymax:0, ticks:dispTicks, label:'Displacement\n[{i|m}]', gap:24, exp:null, lt:158},
  {ymin:-5, ymax:5, ticks:rotTicks, label:'Rotational\nvelocity\n[{i|rad}/{i|s}]', gap:12, exp:'-3', lt:258},
  {ymin:-4.75, ymax:13, ticks:momTicks, label:'Tower base\nmoment\n[{i|Nm}]', gap:17, exp:'6', lt:359},
  {ymin:-0.042, ymax:0.059, ticks:velTicks, label:'Velocity\n[{i|m}/{i|s}]', gap:31, exp:null, lt:472},
  {ymin:2, ymax:4.33, ticks:torqTicks, label:'Generator\ntorque\n[{i|Nm}]', gap:13, exp:'6', lt:563},
  {ymin:1.1, ymax:1.167, ticks:rotorTicks, label:'Rotor speed\n[{i|Rad}/{i|s}]', gap:28, exp:null, lt:664}
];

const grids = [], xAxes = [], yAxes = [];
panels.forEach((p, g) => {
  grids.push({left:77, width:775, top:gridPos[g][0], height:gridPos[g][1], containLabel:false, outerBoundsMode:'none'});
  const last = g === panels.length - 1;
  xAxes.push({
    type:'value', gridIndex:g, min:450, max:500, position:'bottom',
    axisLine:{show:true,onZero:false,lineStyle:{color:AX,width:1}},
    axisTick:{show:true,inside:true,length:5,customValues:xTicks,lineStyle:{color:AX}},
    axisLabel:{show:last,customValues:xTicks,color:AX,fontFamily:SANS,fontSize:12,margin:6},
    splitLine:{show:true,lineStyle:{color:GRIDC,width:1}},
    name: last ? 'Time [{i|s}]' : '', nameLocation:'middle', nameGap:19, nameMoveOverlap:false,
    nameTextStyle:{fontFamily:SERIF,fontSize:15,color:AX,rich:{i:{fontStyle:'italic',fontFamily:SERIF,fontSize:15,color:AX}}}
  });
  xAxes.push({
    type:'value', gridIndex:g, min:450, max:500, position:'top',
    axisLine:{show:true,onZero:false,lineStyle:{color:AX,width:1}},
    axisTick:{show:true,inside:true,length:5,customValues:xTicks,lineStyle:{color:AX}},
    axisLabel:{show:false}, splitLine:{show:false},
    name: p.exp ? '×10{s|' + p.exp + '}' : '', nameLocation:'start', nameGap:-1, nameMoveOverlap:false,
    nameTextStyle:{align:'left',verticalAlign:'bottom',fontFamily:SANS,fontSize:12,color:AX,lineHeight:15,padding:[0,0,1,0],
      rich:{s:{fontFamily:SANS,fontSize:9,lineHeight:15,verticalAlign:'top',color:AX}}}
  });
  yAxes.push({
    type:'value', gridIndex:g, min:p.ymin, max:p.ymax, position:'left',
    axisLine:{show:true,onZero:false,lineStyle:{color:AX,width:1}},
    axisTick:{show:true,inside:true,length:5,customValues:p.ticks,lineStyle:{color:AX}},
    axisLabel:{show:true,customValues:p.ticks,color:AX,fontFamily:SANS,fontSize:12,margin:4},
    splitLine:{show:true,lineStyle:{color:GRIDC,width:1}},
    name:p.label, nameLocation:'middle', nameRotate:90, nameGap:p.gap, nameMoveOverlap:false,
    nameTextStyle:{fontFamily:SERIF,fontSize:16,lineHeight:19,color:AX,rich:richName}
  });
  if (g === 5) {
    yAxes.push({
      type:'value', gridIndex:g, min:5, max:15, position:'right',
      axisLine:{show:true,onZero:false,lineStyle:{color:ORANGE,width:1}},
      axisTick:{show:true,inside:true,length:7,customValues:windTicks,lineStyle:{color:ORANGE}},
      axisLabel:{show:true,customValues:windTicks,color:ORANGE,fontFamily:SANS,fontSize:12,margin:4},
      splitLine:{show:false},
      name:'Wind\nSpeed\n[{i|m}/{i|s}]', nameLocation:'middle', nameRotate:90, nameGap:13, nameMoveOverlap:false,
      nameTextStyle:{fontFamily:SERIF,fontSize:16,lineHeight:19,color:ORANGE,
        rich:{i:{fontStyle:'italic',fontFamily:SERIF,fontSize:16,lineHeight:19,color:ORANGE}}}
    });
  } else {
    yAxes.push({
      type:'value', gridIndex:g, min:p.ymin, max:p.ymax, position:'right',
      axisLine:{show:true,onZero:false,lineStyle:{color:AX,width:1}},
      axisTick:{show:true,inside:true,length:5,customValues:p.ticks,lineStyle:{color:AX}},
      axisLabel:{show:false}, splitLine:{show:false}
    });
  }
});

const uni = (arr, t0, dt) => arr.map((v, i) => [Math.round((t0 + i * dt) * 1000) / 1000, v]);
function line(name, g, yi, data, color, smooth) {
  return {type:'line', name, xAxisIndex:2*g, yAxisIndex:yi, data, symbol:'none', showSymbol:false,
    smooth: smooth || false, lineStyle:{color, width:1}, itemStyle:{color}, silent:true, animation:false};
}
const series = [
  line('a', 0, 0, uni(accA, 450, 0.1), BLUE, false),
  line('ahat', 0, 0, uni(accAhat, 450, 0.25), RED, 0.4),
  line('w', 1, 2, dispW, BLUE, 0.5),
  line('what', 1, 2, dispWhat, RED, 0.2),
  line('om', 2, 4, uni(rotW, 450, 0.3), BLUE, 0.5),
  line('omhat', 2, 4, uni(rotWhat, 450, 0.3), RED, 0.5),
  line('M', 3, 6, momM, BLUE, 0.5),
  line('Mhat', 3, 6, momMhat, RED, 0.5),
  line('vhat', 4, 8, velVhat, RED, 0.4),
  line('Tgen', 5, 10, torqGen, BLUE, 0.5),
  line('Uhub', 5, 11, windU, RED, 0.2),
  line('Om', 6, 12, rotorOmega, BLUE, false),
  line('Omd', 6, 12, rotorOmegaMinus, RED, false)
];

const LEG = {a:'{i|a}', ahat:'{i|\u00e2}', w:'{i|w}', what:'{i|\u0175}', om:'{i|\u03c9}', omhat:'{h|\u03c9\u0302}',
  M:'{i|M}', Mhat:'{h|M\u0302}', vhat:'{h|v\u0302}', Tgen:'{i|T}{sub|gen}', Uhub:'{i|U}{sub|hub}',
  Om:'{r|\u03a9}', Omd:'{r|\u03a9 \u2212 }{h|\u03c9\u0302}'};
const legendNames = [['a','ahat'],['w','what'],['om','omhat'],['M','Mhat'],['vhat'],['Tgen','Uhub'],['Om','Omd']];
const legendRich = {
  i:{fontStyle:'italic',fontFamily:SERIF,fontSize:17,lineHeight:20,color:'#000'},
  h:{fontStyle:'italic',fontFamily:DSERIF,fontSize:15,lineHeight:20,color:'#000'},
  r:{fontFamily:SERIF,fontSize:17,lineHeight:20,color:'#000'},
  sub:{fontStyle:'italic',fontFamily:SERIF,fontSize:12,lineHeight:20,verticalAlign:'bottom',color:'#000'}
};
const legends = legendNames.map((names, g) => ({
  data:names, orient:'vertical', top:panels[g].lt, right:80,
  icon:'rect', itemWidth:43, itemHeight:1, itemGap:2, padding:[3,4,3,5],
  backgroundColor:'#fff', borderColor:AX, borderWidth:1, borderRadius:0,
  selectedMode:false, formatter:(n) => LEG[n],
  textStyle:{fontFamily:SERIF,fontSize:17,lineHeight:20,color:'#000',rich:legendRich}
}));

const chart = echarts.init(document.getElementById('c'), null, {renderer:'canvas'});
chart.setOption({
  backgroundColor:'#fff',
  animation:false,
  graphic:[{type:'text', x:447, y:7, silent:true,
    style:{text:'DLC Time Response', fontFamily:SERIF, fontSize:24, fill:'#000', textAlign:'center', textVerticalAlign:'top'}}],
  grid:grids, xAxis:xAxes, yAxis:yAxes, legend:legends, series
});
</script></body></html>
